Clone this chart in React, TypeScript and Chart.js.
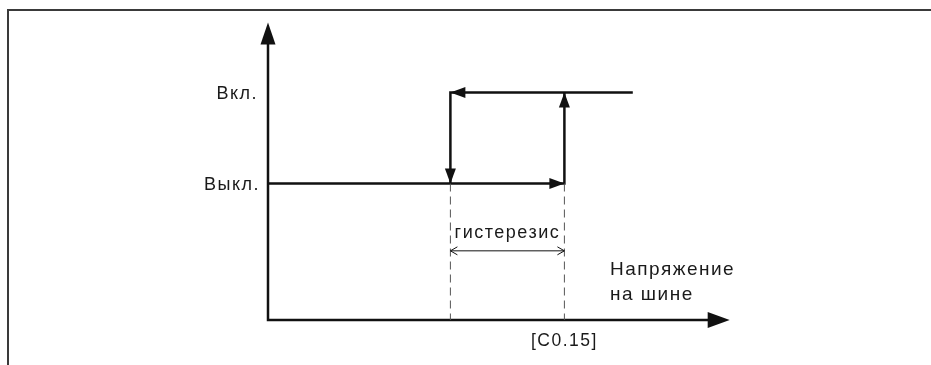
import React, { useEffect, useRef } from "react";
import { Chart, registerables } from "chart.js";

Chart.register(...registerables);

// Logical levels (y) and voltage thresholds (x), in diagram units
const levelOff = 1.5; // Выкл.
const levelOn = 2.5; // Вкл.
const lowThreshold = 1.6;
const highThreshold = 2.6; // [C0.15]
const onLineEnd = 3.2;
const xAxisEnd = 4.05;
const yAxisEnd = 3.27;
const dimLevel = 0.76;

const levelLabels = ["Выкл.", "Вкл."];
const thresholdLabel = "[C0.15]";
const hysteresisLabel = "гистерезис";
const xAxisTitle = ["Напряжение", "на шине"];

const risingPath = [
  { x: 0, y: levelOff },
  { x: highThreshold, y: levelOff },
  { x: highThreshold, y: levelOn },
];
const fallingPath = [
  { x: onLineEnd, y: levelOn },
  { x: lowThreshold, y: levelOn },
  { x: lowThreshold, y: levelOff },
];
const dashLow = [
  { x: lowThreshold, y: levelOff },
  { x: lowThreshold, y: 0 },
];
const dashHigh = [
  { x: highThreshold, y: levelOff },
  { x: highThreshold, y: 0 },
];
const dimLine = [
  { x: lowThreshold, y: dimLevel },
  { x: highThreshold, y: dimLevel },
];

const FONT = '"Liberation Sans", Arial, sans-serif';

function filledHead(ctx: CanvasRenderingContext2D, tx: number, ty: number, ang: number, len: number, hw: number) {
  ctx.save();
  ctx.translate(tx, ty);
  ctx.rotate(ang);
  ctx.beginPath();
  ctx.moveTo(0, 0);
  ctx.lineTo(-len, -hw);
  ctx.lineTo(-len, hw);
  ctx.closePath();
  ctx.fill();
  ctx.restore();
}

function openHead(ctx: CanvasRenderingContext2D, tx: number, ty: number, ang: number, len: number, hw: number) {
  ctx.save();
  ctx.translate(tx, ty);
  ctx.rotate(ang);
  ctx.beginPath();
  ctx.moveTo(-len, -hw);
  ctx.lineTo(0, 0);
  ctx.lineTo(-len, hw);
  ctx.stroke();
  ctx.restore();
}

const diagramPlugin = {
  id: "diagram",
  beforeDatasetsDraw(chart: any) {
    const ctx: CanvasRenderingContext2D = chart.ctx;
    const xs = chart.scales.x;
    const ys = chart.scales.y;
    const W = chart.width;
    const H = chart.height;
    // page frame
    ctx.save();
    ctx.strokeStyle = "#3a3a3a";
    ctx.lineWidth = 2;
    ctx.beginPath();
    ctx.moveTo(W, 10);
    ctx.lineTo(8, 10);
    ctx.lineTo(8, H);
    ctx.stroke();

    // axes
    const ox = xs.getPixelForValue(0);
    const oy = ys.getPixelForValue(0);
    const xt = xs.getPixelForValue(xAxisEnd);
    const yt = ys.getPixelForValue(yAxisEnd);
    ctx.strokeStyle = "#111";
    ctx.fillStyle = "#111";
    ctx.lineWidth = 2.5;
    ctx.beginPath();
    ctx.moveTo(ox, yt + 20);
    ctx.lineTo(ox, oy);
    ctx.lineTo(xt - 20, oy);
    ctx.stroke();
    filledHead(ctx, ox, yt, -Math.PI / 2, 22, 7.5);
    filledHead(ctx, xt, oy, 0, 22, 8);
    ctx.restore();
  },
  afterDatasetsDraw(chart: any) {
    const ctx: CanvasRenderingContext2D = chart.ctx;
    const xs = chart.scales.x;
    const ys = chart.scales.y;
    ctx.save();
    // arrowheads on the hysteresis paths
    chart.data.datasets.forEach((ds: any, i: number) => {
      const meta = chart.getDatasetMeta(i);
      const pts = meta.data;
      if (ds.arrows === "filled") {
        ctx.fillStyle = "#111";
        for (let k = 1; k < pts.length; k++) {
          const a = pts[k - 1];
          const b = pts[k];
          const ang = Math.atan2(b.y - a.y, b.x - a.x);
          filledHead(ctx, b.x, b.y, ang, 15, 5.5);
        }
      } else if (ds.arrows === "open") {
        ctx.strokeStyle = "#111";
        ctx.lineWidth = 1;
        const a = pts[0];
        const b = pts[pts.length - 1];
        const ang = Math.atan2(b.y - a.y, b.x - a.x);
        openHead(ctx, b.x, b.y, ang, 7, 4);
        openHead(ctx, a.x, a.y, ang + Math.PI, 7, 4);
      }
    });

    // texts
    ctx.fillStyle = "#1a1a1a";
    (ctx as any).letterSpacing = "1.5px";
    ctx.textBaseline = "alphabetic";
    const ox = xs.getPixelForValue(0);
    ctx.font = "18px " + FONT;
    ctx.textAlign = "right";
    ctx.fillText(levelLabels[1], ox - 10, ys.getPixelForValue(levelOn) + 6);
    ctx.fillText(levelLabels[0], ox - 8, ys.getPixelForValue(levelOff) + 6);

    ctx.textAlign = "center";
    const mid = (xs.getPixelForValue(lowThreshold) + xs.getPixelForValue(highThreshold)) / 2;
    ctx.fillText(hysteresisLabel, mid, ys.getPixelForValue(dimLevel) - 13);
    ctx.font = "17.5px " + FONT;
    ctx.fillText(thresholdLabel, xs.getPixelForValue(highThreshold), ys.getPixelForValue(0) + 26);

    ctx.font = "19px " + FONT;
    ctx.textAlign = "left";
    const tx = xs.getPixelForValue(3.0);
    ctx.fillText(xAxisTitle[0], tx, ys.getPixelForValue(0) - 45);
    ctx.fillText(xAxisTitle[1], tx, ys.getPixelForValue(0) - 20);
    ctx.restore();
  },
};

export default function App() {
  const ref = useRef<HTMLCanvasElement | null>(null);
  useEffect(() => {
    if (!ref.current) return;
    const xUnit = 114;
    const yUnit = 91;
    const xMin = -268 / xUnit;
    const xMax = xMin + 931 / xUnit;
    const yMax = 320 / yUnit;
    const yMin = yMax - 365 / yUnit;
    const solid = { borderColor: "#111", borderWidth: 2.5, pointRadius: 0, showLine: true, fill: false, tension: 0 };
    const dashed = { borderColor: "#555", borderWidth: 1, borderDash: [8, 5], pointRadius: 0, showLine: true, fill: false };
    const chart = new Chart(ref.current, {
      type: "scatter",
      data: {
        datasets: [
          { ...dashed, data: dashLow },
          { ...dashed, data: dashHigh },
          { ...solid, data: risingPath, arrows: "filled" } as any,
          { ...solid, data: fallingPath, arrows: "filled" } as any,
          { borderColor: "#111", borderWidth: 1, pointRadius: 0, showLine: true, data: dimLine, arrows: "open" } as any,
        ],
      },
      options: {
        responsive: false,
        animation: false,
        layout: { padding: 0 },
        plugins: { legend: { display: false }, tooltip: { enabled: false } },
        scales: {
          x: { type: "linear", display: false, min: xMin, max: xMax },
          y: { type: "linear", display: false, min: yMin, max: yMax },
        },
      },
      plugins: [diagramPlugin],
    });
    return () => chart.destroy();
  }, []);
  return (
    <div style={{ position: "fixed", left: 0, top: 0, width: 931, height: 365, background: "#fff" }}>
      <canvas ref={ref} width={931} height={365} style={{ display: "block" }} />
    </div>
  );
}
